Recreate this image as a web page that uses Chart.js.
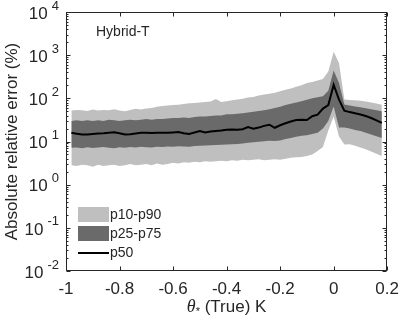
<!DOCTYPE html>
<html>
<head>
<meta charset="utf-8">
<script src="https://cdn.jsdelivr.net/npm/chart.js@4.4.1/dist/chart.umd.min.js"></script>
<style>
  html, body { margin: 0; padding: 0; background: #fff; }
  canvas { display: block; }
</style>
</head>
<body>
<canvas id="chart" width="407" height="324"></canvas>
<script>
// ===== DATA =====
const thetaTrue = [-0.98, -0.96, -0.94, -0.92, -0.90, -0.88, -0.86, -0.84, -0.82, -0.80,
  -0.78, -0.76, -0.74, -0.72, -0.70, -0.68, -0.66, -0.64, -0.62, -0.60,
  -0.58, -0.56, -0.54, -0.52, -0.50, -0.48, -0.46, -0.44, -0.42, -0.40,
  -0.38, -0.36, -0.34, -0.32, -0.30, -0.28, -0.26, -0.24, -0.22, -0.20,
  -0.18, -0.16, -0.14, -0.12, -0.10, -0.08, -0.06, -0.04, -0.02, 0.00,
  0.02, 0.04, 0.06, 0.08, 0.10, 0.12, 0.14, 0.16, 0.18];

const p50 = [15.9, 15.2, 14.5, 14.6, 15.0, 15.4, 15.5, 16.0, 16.4, 15.6,
  14.6, 14.8, 15.3, 15.9, 15.9, 15.8, 15.9, 16.0, 15.9, 16.2,
  16.6, 15.6, 15.0, 16.1, 17.4, 16.2, 17.0, 17.6, 18.0, 18.8,
  18.9, 18.8, 19.2, 21.5, 19.8, 21.0, 23.0, 24.5, 20.8, 23.8,
  26.5, 29.0, 31.5, 32.0, 31.5, 38.5, 42.0, 58.0, 70.0, 206,
  93, 52, 48, 45, 42, 39, 35, 31, 27];

const p75 = [30, 31, 30, 31, 30, 31, 30, 32, 31, 30,
  31, 32, 31, 32, 33, 32, 33, 33, 34, 35,
  35, 36, 35, 37, 38, 38, 39, 40, 40, 43,
  43, 44, 45, 47, 49, 51, 53, 56, 60, 64,
  70, 75, 80, 86, 93, 100, 106, 112, 150, 440,
  226, 72, 68, 65, 62, 59, 56, 53, 50];

const p25 = [7.2, 7.3, 7.0, 7.4, 7.1, 7.3, 7.5, 7.2, 7.0, 7.4,
  7.2, 7.5, 7.3, 7.6, 7.4, 7.3, 7.6, 7.5, 7.7, 7.6,
  7.8, 7.7, 7.6, 7.9, 8.0, 8.1, 8.2, 8.3, 8.4, 8.5,
  8.6, 8.8, 9.0, 9.3, 9.6, 9.9, 10.2, 10.4, 10.3, 10.6,
  11.5, 12.0, 12.8, 13.5, 14.0, 15.0, 16.0, 20.0, 30.0, 65,
  21, 21, 20, 18.5, 17.5, 16, 14.5, 13.2, 12.0];

const p90 = [52, 54, 53, 51, 55, 52, 54, 53, 56, 52,
  50, 54, 57, 55, 58, 60, 64, 66, 68, 70,
  71, 74, 77, 78, 80, 82, 84, 97, 82, 86,
  90, 94, 98, 104, 108, 116, 122, 128, 135, 145,
  158, 170, 185, 200, 226, 240, 258, 280, 420, 1200,
  660, 94, 92, 90, 88, 84, 80, 76, 71];

const p10 = [2.8, 2.7, 2.9, 2.8, 2.6, 2.9, 2.7, 2.8, 2.9, 2.7,
  2.8, 3.0, 2.8, 2.9, 3.0, 2.8, 3.1, 2.9, 3.0, 3.2,
  3.1, 3.3, 3.2, 3.4, 3.3, 3.5, 3.4, 3.5, 3.6, 3.5,
  3.7, 3.6, 3.8, 3.7, 3.8, 3.9, 3.7, 3.8, 3.9, 3.8,
  4.0, 4.2, 4.3, 4.4, 4.6, 5.0, 6.0, 7.5, 18.0, 38,
  13, 8.5, 8.6, 8.0, 7.3, 6.6, 5.9, 5.2, 4.6];

const xTicks = [-1, -0.8, -0.6, -0.4, -0.2, 0, 0.2];
const yExps = [-2, -1, 0, 1, 2, 3, 4];
const legendLabels = ['p10-p90', 'p25-p75', 'p50'];
const panelLabel = 'Hybrid-T';

// ===== STYLE =====
const axisColor = '#262626';
const lightGray = '#bfbfbf';
const darkGray = '#6a6a6a';
const fontFamily = '"Liberation Sans", Arial, Helvetica, sans-serif';
const serifItalic = 'italic 18px "Liberation Serif", "Times New Roman", serif';

function toPoints(values) {
  return values.map((v, i) => ({ x: thetaTrue[i], y: v }));
}

function bandEdge(label, values, fill, color) {
  return {
    label: label,
    data: toPoints(values),
    borderColor: 'rgba(0,0,0,0)',
    borderWidth: 0,
    backgroundColor: color,
    fill: fill,
    pointRadius: 0,
    tension: 0
  };
}

// frame, inward ticks, y labels, legend, texts
const decorPlugin = {
  id: 'decor',
  afterDraw(chart) {
    const ctx = chart.ctx;
    const a = chart.chartArea;
    const xs = chart.scales.x;
    const ys = chart.scales.y;
    const L = Math.round(a.left) + 0.5;
    const R = Math.round(a.right) - 0.5;
    const T = Math.round(a.top) + 0.5;
    const B = Math.round(a.bottom) - 0.5;

    ctx.save();
    ctx.strokeStyle = axisColor;
    ctx.lineWidth = 1;
    ctx.strokeRect(L, T, R - L, B - T);

    ctx.beginPath();
    xTicks.forEach(v => {
      const px = Math.round(xs.getPixelForValue(v)) + 0.5;
      ctx.moveTo(px, B); ctx.lineTo(px, B - 4);
      ctx.moveTo(px, T); ctx.lineTo(px, T + 4);
    });
    yExps.forEach(e => {
      const py = Math.round(ys.getPixelForValue(Math.pow(10, e))) + 0.5;
      ctx.moveTo(L, py); ctx.lineTo(L + 4, py);
      ctx.moveTo(R, py); ctx.lineTo(R - 4, py);
      if (e < 4) {
        for (let m = 2; m < 10; m++) {
          const pm = Math.round(ys.getPixelForValue(m * Math.pow(10, e))) + 0.5;
          ctx.moveTo(L, pm); ctx.lineTo(L + 2, pm);
          ctx.moveTo(R, pm); ctx.lineTo(R - 2, pm);
        }
      }
    });
    ctx.stroke();

    // y tick labels 10^n
    ctx.fillStyle = axisColor;
    ctx.textBaseline = 'middle';
    ctx.textAlign = 'right';
    yExps.forEach(e => {
      const py = ys.getPixelForValue(Math.pow(10, e));
      const expTxt = String(e);
      ctx.font = '13px ' + fontFamily;
      const ew = ctx.measureText(expTxt).width;
      ctx.fillText(expTxt, a.left - 7, py - 6);
      ctx.font = '17px ' + fontFamily;
      ctx.fillText('10', a.left - 7 - ew - 4, py + 2);
    });

    // panel label
    ctx.textAlign = 'left';
    ctx.font = '14px ' + fontFamily;
    ctx.fillText(panelLabel, a.left + 30, a.top + 20);

    // legend
    const lx = a.left + 12;
    ctx.fillStyle = lightGray;
    ctx.fillRect(lx, 207, 31, 15);
    ctx.fillStyle = darkGray;
    ctx.fillRect(lx, 226, 31, 15);
    ctx.strokeStyle = '#000';
    ctx.lineWidth = 2;
    ctx.beginPath();
    ctx.moveTo(lx, 253); ctx.lineTo(lx + 31, 253);
    ctx.stroke();
    ctx.fillStyle = axisColor;
    ctx.font = '14px ' + fontFamily;
    ctx.fillText(legendLabels[0], lx + 32, 215);
    ctx.fillText(legendLabels[1], lx + 32, 234);
    ctx.fillText(legendLabels[2], lx + 32, 253);

    // x axis title: theta_* (True) K
    const cx = (a.left + a.right) / 2;
    const ty = 307;
    ctx.font = serifItalic;
    const wTheta = ctx.measureText('θ').width;
    ctx.font = '11px ' + fontFamily;
    const wStar = ctx.measureText('*').width;
    ctx.font = '17px ' + fontFamily;
    const rest = ' (True) K';
    const wRest = ctx.measureText(rest).width;
    let x0 = cx - (wTheta + wStar + wRest) / 2;
    ctx.font = serifItalic;
    ctx.fillText('θ', x0, ty);
    x0 += wTheta;
    ctx.font = '11px ' + fontFamily;
    ctx.fillText('*', x0, ty + 5);
    x0 += wStar;
    ctx.font = '17px ' + fontFamily;
    ctx.fillText(rest, x0, ty);
    ctx.restore();
  }
};

new Chart(document.getElementById('chart'), {
  type: 'line',
  data: {
    datasets: [
      {
        label: legendLabels[2],
        data: toPoints(p50),
        borderColor: '#000',
        borderWidth: 2,
        pointRadius: 0,
        tension: 0,
        fill: false
      },
      bandEdge('p75', p75, '+1', darkGray),
      bandEdge('p25', p25, false, darkGray),
      bandEdge('p90', p90, '+1', lightGray),
      bandEdge('p10', p10, false, lightGray)
    ]
  },
  options: {
    responsive: false,
    animation: false,
    devicePixelRatio: 1,
    layout: { padding: { left: 0, right: 15, top: 12, bottom: 0 } },
    plugins: {
      legend: { display: false },
      tooltip: { enabled: false }
    },
    scales: {
      x: {
        type: 'linear',
        min: -1,
        max: 0.2,
        afterBuildTicks: s => { s.ticks = xTicks.map(v => ({ value: v })); },
        afterFit: s => { s.height = 53; },
        grid: { display: false, drawTicks: false },
        border: { display: false },
        ticks: {
          color: axisColor,
          font: { size: 17, family: fontFamily },
          padding: 8,
          maxRotation: 0,
          autoSkip: false,
          callback: v => String(Math.round(v * 10) / 10)
        }
      },
      y: {
        type: 'logarithmic',
        min: 0.01,
        max: 10000,
        afterFit: s => { s.width = 66; },
        grid: { display: false, drawTicks: false },
        border: { display: false },
        ticks: { display: false },
        title: {
          display: true,
          text: 'Absolute relative error (%)',
          color: axisColor,
          font: { size: 17, family: fontFamily },
          padding: { top: 2, bottom: 0 }
        }
      }
    }
  },
  plugins: [decorPlugin]
});
</script>
</body>
</html>
